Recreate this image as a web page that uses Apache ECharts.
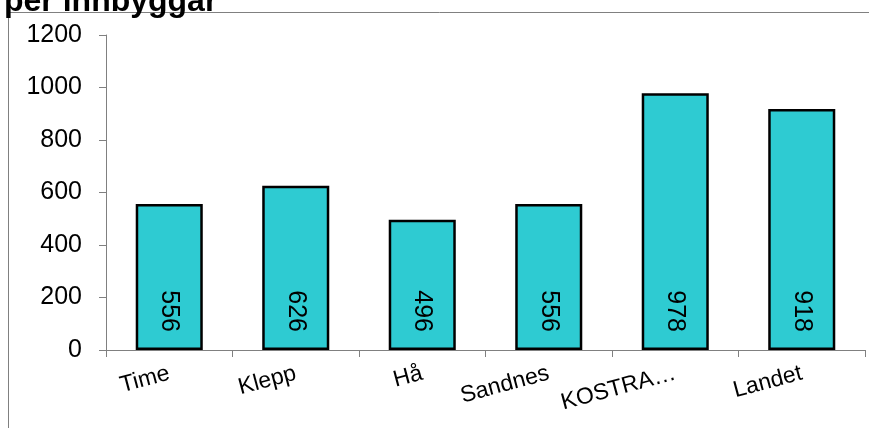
<!DOCTYPE html>
<html>
<head>
<meta charset="utf-8">
<script src="https://cdn.jsdelivr.net/npm/echarts@6/dist/echarts.min.js"></script>
<style>
  html, body { margin: 0; padding: 0; background: #fff; }
  #chart { width: 869px; height: 428px; }
</style>
</head>
<body>
<div id="chart"></div>
<script>
// kategoriar og verdiar
var categories = ['Time', 'Klepp', 'Hå', 'Sandnes', 'KOSTRA…', 'Landet'];
var values = [556, 626, 496, 556, 978, 918];
var yTicks = [0, 200, 400, 600, 800, 1000, 1200];

var myChart = echarts.init(document.getElementById('chart'));
var font = '"Liberation Sans", Arial, sans-serif';

myChart.setOption({
  animation: false,
  textStyle: { fontFamily: font },
  title: {
    text: 'per innbyggar',
    left: -1,
    top: -19,
    textStyle: { fontSize: 32, fontWeight: 'bold', color: '#000', fontFamily: font }
  },
  graphic: [{
    type: 'rect',
    shape: { x: 8.5, y: 12.5, width: 900, height: 500 },
    style: { fill: 'none', stroke: '#808080', lineWidth: 1 },
    z: -1
  }],
  grid: { left: 106, right: 4, top: 35, bottom: 78 },
  xAxis: {
    type: 'category',
    data: categories,
    axisLine: { lineStyle: { color: '#808080', width: 1 } },
    axisTick: { show: true, length: 7, alignWithLabel: false, lineStyle: { color: '#808080' } },
    axisLabel: { interval: 0, rotate: 15, fontSize: 23, color: '#000', margin: 23, fontFamily: font }
  },
  yAxis: {
    type: 'value',
    min: yTicks[0],
    max: yTicks[yTicks.length - 1],
    interval: 200,
    axisLine: { show: true, lineStyle: { color: '#808080', width: 1 } },
    axisTick: { show: true, length: 7, lineStyle: { color: '#808080' } },
    splitLine: { show: false },
    axisLabel: {
      fontSize: 25, color: '#000', margin: 24, fontFamily: font,
      formatter: function (v) { return String(v); }
    }
  },
  series: [{
    type: 'bar',
    data: values,
    barWidth: '53%',
    itemStyle: { color: '#2ECBD2', borderColor: '#000', borderWidth: 2.5 },
    label: {
      show: true,
      position: 'insideBottom',
      distance: 18,
      rotate: -90,
      align: 'right',
      verticalAlign: 'middle',
      fontSize: 25,
      color: '#000',
      fontFamily: font
    }
  }]
});
</script>
</body>
</html>
